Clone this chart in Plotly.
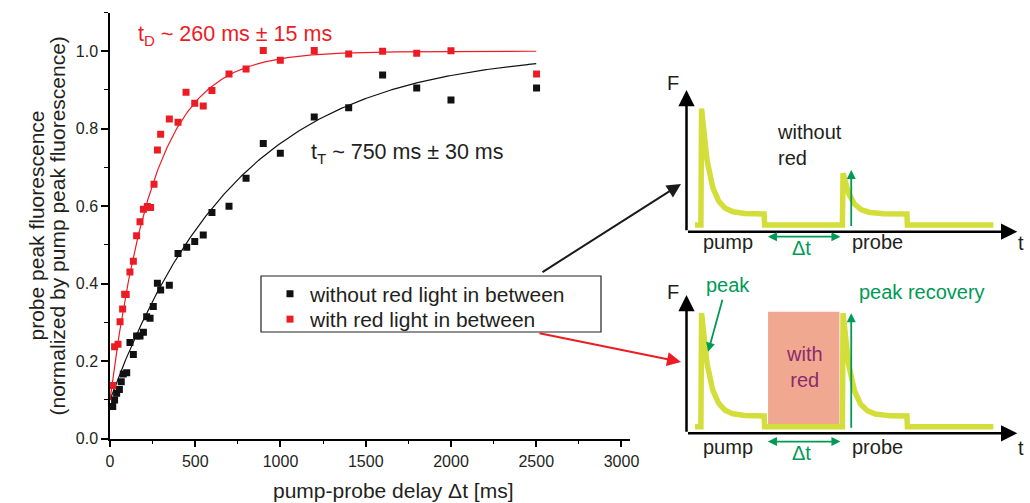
import numpy as np
import plotly.graph_objects as go

# ---------------- measured recovery data ----------------
# probe peak fluorescence (normalized by pump peak) vs pump-probe delay [ms]
delay_without_red = [16, 27, 39, 55, 66, 78, 98, 117, 137, 156, 176, 196, 215, 235, 254,
                     278, 297, 348, 399, 450, 497, 547, 598, 698, 798, 899, 999, 1198,
                     1400, 1599, 1799, 2000, 2502]
peak_without_red = [0.083, 0.100, 0.117, 0.127, 0.147, 0.167, 0.170, 0.248, 0.217, 0.265,
                    0.265, 0.275, 0.315, 0.311, 0.341, 0.401, 0.384, 0.396, 0.478, 0.494,
                    0.509, 0.526, 0.584, 0.600, 0.672, 0.762, 0.737, 0.830, 0.854, 0.939,
                    0.905, 0.874, 0.905]

delay_with_red = [16, 27, 47, 59, 74, 86, 95, 117, 137, 156, 176, 196, 219, 238, 258, 278,
                  297, 348, 399, 446, 497, 547, 598, 698, 798, 899, 999, 1198, 1400, 1599,
                  1799, 2000, 2502]
peak_with_red = [0.137, 0.237, 0.244, 0.302, 0.335, 0.373, 0.372, 0.430, 0.458, 0.524, 0.560,
                 0.592, 0.599, 0.597, 0.657, 0.745, 0.786, 0.825, 0.817, 0.894, 0.866, 0.859,
                 0.899, 0.941, 0.954, 1.002, 0.977, 1.002, 0.993, 1.000, 0.995, 1.001, 0.941]

# exponential recovery fits: y = A - (A - y0) * exp(-t / tau)
fit_amplitude = 1.0
fit_start = 0.1
tau_dark = 260      # ms, with red light
tau_thermal = 750   # ms, without red light
fit_end = 2500

# tick labels
x_ticks = [0, 500, 1000, 1500, 2000, 2500, 3000]
y_ticks = [0.0, 0.2, 0.4, 0.6, 0.8, 1.0]

# ---------------- schematic pulse timing (arbitrary units) ----------------
sketch_start, sketch_end = 2.6, 93.7
pump_on, pump_off = 4.6, 23.7
probe_on, probe_off = 47.8, 67.3
sketch_baseline = 0.047
sketch_plateau = 0.125
sketch_pump_peak = 0.87
probe_peak_without_red = 0.412
probe_peak_with_red = 0.868
sketch_decay_tau = 2.5

W, H = 1030, 503
TXT = "#231f20"
RED = "#ec1c24"
BLK = "#111111"
GREEN = "#009a55"
YELLOW = "#d3de3a"
SALMON = "#f0a990"
PURPLE = "#8c2a6e"
FONT = "Arial, Liberation Sans, sans-serif"


def px(x):
    return x / W


def py(y):
    return 1 - y / H


def pulse_trace(probe_peak):
    t = [sketch_start, pump_on - 0.2]
    f = [sketch_baseline, sketch_baseline]
    for on, off, peak in ((pump_on, pump_off, sketch_pump_peak), (probe_on, probe_off, probe_peak)):
        dts = np.linspace(0, off - on, 120)
        t.extend(on + dts)
        f.extend(sketch_plateau + (peak - sketch_plateau) * np.exp(-dts / sketch_decay_tau))
        t.extend([off + 0.15, off + 0.3])
        f.extend([sketch_baseline, sketch_baseline])
        if on == pump_on:
            t.append(probe_on - 0.2)
            f.append(sketch_baseline)
    t.append(sketch_end)
    f.append(sketch_baseline)
    return list(t), list(f)


fig = go.Figure()

# fitted curves
fit_t = np.linspace(0, fit_end, 400)
fig.add_trace(go.Scatter(
    x=fit_t, y=fit_amplitude - (fit_amplitude - fit_start) * np.exp(-fit_t / tau_thermal),
    mode="lines", line=dict(color=BLK, width=1.2), showlegend=False, hoverinfo="skip"))
fig.add_trace(go.Scatter(
    x=fit_t, y=fit_amplitude - (fit_amplitude - fit_start) * np.exp(-fit_t / tau_dark),
    mode="lines", line=dict(color=RED, width=1.2), showlegend=False, hoverinfo="skip"))

# measured points (each series has its own legend row)
fig.add_trace(go.Scatter(
    x=delay_without_red, y=peak_without_red, mode="markers",
    marker=dict(symbol="square", size=7, color=BLK, line=dict(width=0)),
    name="without red light in between", legend="legend"))
fig.add_trace(go.Scatter(
    x=delay_with_red, y=peak_with_red, mode="markers",
    marker=dict(symbol="square", size=7, color=RED, line=dict(width=0)),
    name="with red light in between", legend="legend2"))

# schematic pulse traces
for ax_id, peak in (("2", probe_peak_without_red), ("3", probe_peak_with_red)):
    tt, ff = pulse_trace(peak)
    fig.add_trace(go.Scatter(
        x=tt, y=ff, mode="lines", xaxis="x" + ax_id, yaxis="y" + ax_id,
        line=dict(color=YELLOW, width=5.5), showlegend=False, hoverinfo="skip"))

axis_common = dict(showgrid=False, zeroline=False, showline=True, linecolor="black",
                   linewidth=1.5, ticks="outside", tickcolor="black", tickwidth=1.5,
                   ticklen=7, automargin=False,
                   tickfont=dict(family=FONT, size=16, color=TXT))

# sketch panels: time axis 0..100 spans the drawn t-arrow, F axis 0..1 spans the F-arrow
SK_X0, SK_X1 = 686.5, 1014.0           # pixel positions of t = 0 and t = 100
SK_XR = (-8.0, 104.0)
SK_YR = (-0.2, 1.12)


def sketch_domains(y_zero_px, y_one_px):
    sx = (SK_X1 - SK_X0) / 100.0
    sy = (y_zero_px - y_one_px)
    xd = [px(SK_X0 + SK_XR[0] * sx), px(SK_X0 + SK_XR[1] * sx)]
    yd = [py(y_zero_px - SK_YR[0] * sy), py(y_zero_px - SK_YR[1] * sy)]
    return xd, yd


top_xd, top_yd = sketch_domains(231.7, 90.0)
bot_xd, bot_yd = sketch_domains(433.3, 295.0)

legend_style = dict(xanchor="left", yanchor="middle", bgcolor="rgba(0,0,0,0)", borderwidth=0,
                    font=dict(family=FONT, size=21, color=TXT))

fig.update_layout(
    width=W, height=H, margin=dict(l=0, r=0, t=0, b=0, autoexpand=False),
    paper_bgcolor="white", plot_bgcolor="white",
    font=dict(family=FONT, color=TXT),
    xaxis=dict(domain=[px(110), px(630)], range=[0, 3050], tickvals=x_ticks,
               ticktext=[str(v) for v in x_ticks],
               minor=dict(dtick=250, ticks="outside", ticklen=4, tickcolor="black", tickwidth=1.2),
               anchor="y", **axis_common),
    yaxis=dict(domain=[py(438.7), py(12.5)], range=[0, 1.1], tickvals=y_ticks,
               ticktext=["%.1f" % v for v in y_ticks],
               minor=dict(dtick=0.1, ticks="outside", ticklen=4, tickcolor="black", tickwidth=1.2),
               anchor="x", **axis_common),
    xaxis2=dict(domain=top_xd, range=list(SK_XR), visible=False, anchor="y2"),
    yaxis2=dict(domain=top_yd, range=list(SK_YR), visible=False, anchor="x2"),
    xaxis3=dict(domain=bot_xd, range=list(SK_XR), visible=False, anchor="y3"),
    yaxis3=dict(domain=bot_yd, range=list(SK_YR), visible=False, anchor="x3"),
    legend=dict(x=px(270), y=py(294), **legend_style),
    legend2=dict(x=px(270), y=py(319.5), **legend_style),
    showlegend=True,
)

# legend frame
fig.add_shape(type="rect", xref="paper", yref="paper", x0=px(261), x1=px(601),
              y0=py(332), y1=py(276), line=dict(color="#222222", width=1.2))

# red light box in the lower sketch
fig.add_shape(type="rect", xref="x3", yref="y3", x0=24.9, x1=46.7, y0=0.048, y1=0.879,
              fillcolor=SALMON, line=dict(width=0), layer="below")

ann = []

# axis titles
ann.append(dict(text="pump-probe delay \u0394t [ms]", xref="paper", yref="paper",
                x=px(393), y=py(490), xanchor="center", yanchor="middle", showarrow=False,
                font=dict(size=21, color=TXT, family=FONT)))
ann.append(dict(text="probe peak fluorescence", xref="paper", yref="paper",
                x=px(23), y=py(226), textangle=-90, showarrow=False,
                font=dict(size=21, color=TXT, family=FONT)))
ann.append(dict(text="(normalized by pump peak fluorescence)", xref="paper", yref="paper",
                x=px(44), y=py(226), textangle=-90, showarrow=False,
                font=dict(size=21, color=TXT, family=FONT)))

# fit annotations
ann.append(dict(text="t<sub>D</sub> ~ 260 ms \u00b1 15 ms", xref="x", yref="y",
                x=150, y=1.04, xanchor="left", yanchor="middle", showarrow=False,
                font=dict(size=21.5, color=RED, family=FONT)))
ann.append(dict(text="t<sub>T</sub> ~ 750 ms \u00b1 30 ms", xref="x", yref="y",
                x=1165, y=0.737, xanchor="left", yanchor="middle", showarrow=False,
                font=dict(size=21.5, color=TXT, family=FONT)))

# arrows from legend entries to the sketches
ann.append(dict(text="", xref="paper", yref="paper", x=px(681), y=py(184),
                ax=-140, ay=89, axref="pixel", ayref="pixel", showarrow=True,
                arrowhead=2, arrowsize=1.4, arrowwidth=2, arrowcolor="#1a1a1a"))
ann.append(dict(text="", xref="paper", yref="paper", x=px(681), y=py(362),
                ax=-143, ay=-29, axref="pixel", ayref="pixel", showarrow=True,
                arrowhead=2, arrowsize=1.4, arrowwidth=2, arrowcolor=RED))

# sketch axes, labels and arrows
for ax_id, f_lab_y, lab_y, dt_y, dtlab_y, rec_top in (("2", 1.05, -0.07, -0.035, -0.115, 0.435),
                                                      ("3", 1.02, -0.097, -0.06, -0.145, 0.868)):
    xr, yr = "x" + ax_id, "y" + ax_id
    # axes with arrow heads
    ann.append(dict(text="", xref=xr, yref=yr, x=101, y=0, ax=0, ay=0, axref=xr, ayref=yr,
                    showarrow=True, arrowhead=2, arrowsize=1.3, arrowwidth=2.5, arrowcolor="black"))
    ann.append(dict(text="", xref=xr, yref=yr, x=0, y=1.0, ax=0, ay=0, axref=xr, ayref=yr,
                    showarrow=True, arrowhead=2, arrowsize=1.3, arrowwidth=2.5, arrowcolor="black"))
    ann.append(dict(text="F", xref=xr, yref=yr, x=-4, y=f_lab_y, showarrow=False,
                    font=dict(size=20, color=TXT, family=FONT)))
    ann.append(dict(text="t", xref=xr, yref=yr, x=102, y=lab_y - 0.01, showarrow=False,
                    font=dict(size=20, color=TXT, family=FONT)))
    ann.append(dict(text="pump", xref=xr, yref=yr, x=12.7, y=lab_y, showarrow=False,
                    font=dict(size=20, color=TXT, family=FONT)))
    ann.append(dict(text="probe", xref=xr, yref=yr, x=58.3, y=lab_y, showarrow=False,
                    font=dict(size=20, color=TXT, family=FONT)))
    # delay double arrow
    ann.append(dict(text="", xref=xr, yref=yr, x=47.0, y=dt_y, ax=24.4, ay=dt_y, axref=xr, ayref=yr,
                    showarrow=True, arrowhead=2, startarrowhead=2, arrowside="end+start",
                    arrowsize=1.0, startarrowsize=1.0, arrowwidth=1.8, arrowcolor=GREEN))
    ann.append(dict(text="\u0394t", xref=xr, yref=yr, x=35.2, y=dtlab_y, showarrow=False,
                    font=dict(size=20, color=GREEN, family=FONT)))
    # probe peak marker arrow
    ann.append(dict(text="", xref=xr, yref=yr, x=50.3, y=rec_top, ax=50.3, ay=0.03, axref=xr, ayref=yr,
                    showarrow=True, arrowhead=2, arrowsize=1.0, arrowwidth=1.8, arrowcolor=GREEN))

ann.append(dict(text="without<br>red", xref="x2", yref="y2", x=27.1, y=0.612, xanchor="left",
                align="left", showarrow=False, font=dict(size=20, color=TXT, family=FONT)))
ann.append(dict(text="with<br>red", xref="x3", yref="y3", x=36.0, y=0.48, showarrow=False,
                font=dict(size=20, color=PURPLE, family=FONT)))
ann.append(dict(text="peak recovery", xref="x3", yref="y3", x=72.0, y=1.024, showarrow=False,
                font=dict(size=20, color=GREEN, family=FONT)))
ann.append(dict(text="peak", xref="x3", yref="y3", x=12.7, y=1.072, showarrow=False,
                font=dict(size=20, color=GREEN, family=FONT)))
ann.append(dict(text="", xref="x3", yref="y3", x=6.6, y=0.59, ax=11.1, ay=0.976, axref="x3", ayref="y3",
                showarrow=True, arrowhead=2, arrowsize=1.0, arrowwidth=1.8, arrowcolor=GREEN))

fig.update_layout(annotations=ann)

fig.write_html("out.html")
